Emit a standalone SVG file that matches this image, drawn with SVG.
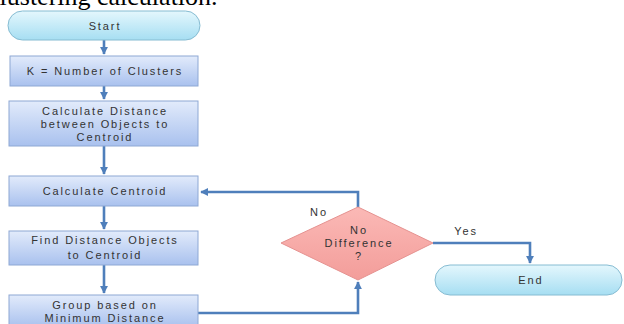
<svg xmlns="http://www.w3.org/2000/svg" width="624" height="324" viewBox="0 0 624 324">
<defs>
<linearGradient id="gBox" x1="0" y1="0" x2="0" y2="1"><stop offset="0" stop-color="#e2ebfb"/><stop offset="1" stop-color="#a9c1ee"/></linearGradient>
<linearGradient id="gTerm" x1="0" y1="0" x2="0" y2="1"><stop offset="0" stop-color="#e4f7fd"/><stop offset="1" stop-color="#a6def2"/></linearGradient>
<linearGradient id="gDia" x1="0" y1="0" x2="0" y2="1"><stop offset="0" stop-color="#fbb9b6"/><stop offset="1" stop-color="#f39d9a"/></linearGradient>
<marker id="arr" viewBox="0 0 10 10" refX="9" refY="5" markerWidth="3.2" markerHeight="3.2" orient="auto" markerUnits="strokeWidth"><path d="M0,0 L10,5 L0,10 z" fill="#4f7fbb"/></marker>
<style>
.box{fill:url(#gBox);stroke:#8ea8d4;stroke-width:1}
.term{fill:url(#gTerm);stroke:#86bcd2;stroke-width:1}
.dia{fill:url(#gDia);stroke:#e59290;stroke-width:1}
.t{font-family:"Liberation Sans",Arial,sans-serif;font-size:11px;letter-spacing:1.9px;fill:#333;text-anchor:middle}
.c{fill:none;stroke:#4f7fbb;stroke-width:2.6}
.title{font-family:"Liberation Serif","Times New Roman",serif;font-size:26px;fill:#000}
</style>
</defs>
<rect width="624" height="324" fill="#fff"/>
<text class="title" x="-12" y="5">clustering calculation.</text>
<g id="connectors">
<path class="c" d="M104,40 V54" marker-end="url(#arr)"/>
<path class="c" d="M104,86 V99" marker-end="url(#arr)"/>
<path class="c" d="M104,146 V174" marker-end="url(#arr)"/>
<path class="c" d="M104,206 V229" marker-end="url(#arr)"/>
<path class="c" d="M104,265 V293" marker-end="url(#arr)"/>
<path class="c" d="M198,313 H358 V282" marker-end="url(#arr)"/>
<path class="c" d="M358,207 V192 H201" marker-end="url(#arr)"/>
<path class="c" d="M433,243 H530 V263" marker-end="url(#arr)"/>
</g>
<g id="start"><rect class="term" x="8" y="11" width="192" height="29" rx="14.5"/><text class="t" x="105" y="29.5">Start</text></g>
<g id="k"><rect class="box" x="10" y="56" width="188" height="30"/><text class="t" x="105" y="75">K = Number of Clusters</text></g>
<g id="calcdist"><rect class="box" x="9" y="101" width="189" height="45"/><text class="t" x="105" y="115">Calculate Distance</text><text class="t" x="105" y="128">between Objects to</text><text class="t" x="105" y="141">Centroid</text></g>
<g id="calccent"><rect class="box" x="9" y="176" width="189" height="30"/><text class="t" x="105" y="195">Calculate Centroid</text></g>
<g id="finddist"><rect class="box" x="9" y="231" width="189" height="34"/><text class="t" x="105" y="243.5">Find Distance Objects</text><text class="t" x="105" y="259">to Centroid</text></g>
<g id="group"><rect class="box" x="9" y="295" width="189" height="32"/><text class="t" x="105" y="308.5">Group based on</text><text class="t" x="105" y="321.5">Minimum Distance</text></g>
<g id="decision"><polygon class="dia" points="358,207 433,243 358,280 281,243"/><text class="t" x="359" y="234">No</text><text class="t" x="359" y="247">Difference</text><text class="t" x="359" y="260">?</text></g>
<g id="end"><rect class="term" x="435" y="265" width="187" height="30" rx="15"/><text class="t" x="531" y="284">End</text></g>
<text class="t" x="319" y="216">No</text>
<text class="t" x="466" y="235">Yes</text>
</svg>
